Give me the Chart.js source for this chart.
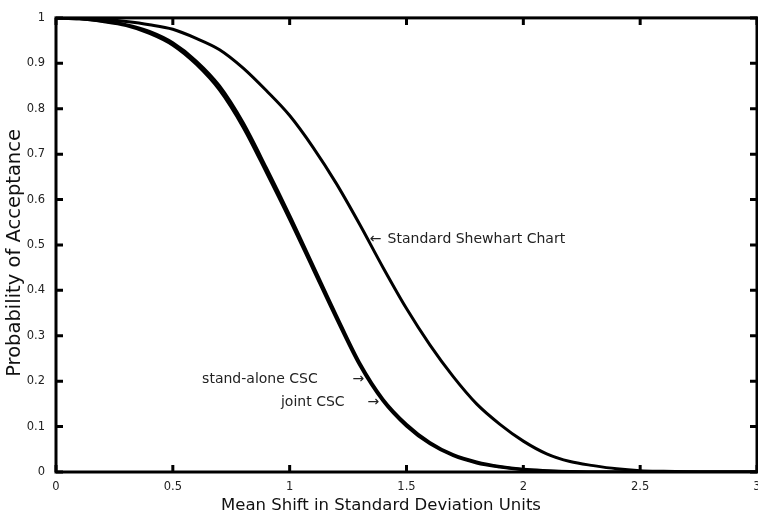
<!DOCTYPE html>
<html>
<head>
<meta charset="utf-8">
<script src="https://cdn.jsdelivr.net/npm/chart.js@4"></script>
<style>
  html, body { margin: 0; padding: 0; background: #fff; }
  #wrap { width: 758px; height: 515px; }
</style>
</head>
<body>
<div id="wrap"><canvas id="occChart"></canvas></div>
<script>
// mean shift (in std dev units)
const shifts = [0, 0.1, 0.2, 0.3, 0.4, 0.5, 0.6, 0.7, 0.8, 0.9, 1.0,
                1.1, 1.2, 1.3, 1.4, 1.5, 1.6, 1.7, 1.8, 1.9, 2.0,
                2.1, 2.2, 2.3, 2.4, 2.5, 2.6, 2.7, 2.8, 2.9, 3.0];

// probability of acceptance
const shewhart = [1.0, 0.999, 0.997, 0.992, 0.985, 0.975, 0.955, 0.93, 0.89, 0.84, 0.785,
                  0.715, 0.635, 0.545, 0.45, 0.36, 0.28, 0.21, 0.15, 0.105, 0.068,
                  0.04, 0.023, 0.014, 0.007, 0.003, 0.0015, 0.0005, 0, 0, 0];
const standAlone = [1.0, 0.998, 0.993, 0.985, 0.97, 0.945, 0.905, 0.85, 0.77, 0.67, 0.565,
                    0.455, 0.345, 0.24, 0.16, 0.105, 0.065, 0.038, 0.022, 0.012, 0.006,
                    0.003, 0.001, 0, 0, 0, 0, 0, 0, 0, 0];
const joint = [1.0, 0.998, 0.992, 0.983, 0.966, 0.94, 0.898, 0.841, 0.76, 0.66, 0.556,
               0.447, 0.338, 0.235, 0.156, 0.101, 0.062, 0.036, 0.02, 0.011, 0.005,
               0.002, 0.001, 0, 0, 0, 0, 0, 0, 0, 0];

const xTickStep = 0.5;
const yTickStep = 0.1;

const xTitle = 'Mean Shift in Standard Deviation Units';
const yTitle = 'Probability of Acceptance';

// text notes placed in data units
const notes = [
  { text: '\u2190', x: 1.343, y: 0.512, align: 'left' },
  { text: 'Standard Shewhart Chart', x: 1.419, y: 0.512, align: 'left' },
  { text: 'stand-alone CSC', x: 1.12, y: 0.203, align: 'right' },
  { text: '\u2192', x: 1.269, y: 0.203, align: 'left' },
  { text: 'joint CSC', x: 1.235, y: 0.153, align: 'right' },
  { text: '\u2192', x: 1.333, y: 0.153, align: 'left' }
];

const FONT = '"DejaVu Sans", "Liberation Sans", Arial, sans-serif';

const toPoints = ys => shifts.map((x, i) => ({ x: x, y: ys[i] }));
const fmt = v => String(Math.round(v * 10) / 10);

// frame + inward ticks on all four sides, axis titles and the text notes
const framePlugin = {
  id: 'frame',
  afterDraw(chart) {
    const { ctx, chartArea: a, scales } = chart;
    ctx.save();
    ctx.strokeStyle = '#000';
    ctx.lineWidth = 3;
    ctx.strokeRect(a.left, a.top, a.right - a.left, a.bottom - a.top);
    const len = 7;
    scales.x.ticks.forEach(t => {
      const px = scales.x.getPixelForValue(t.value);
      ctx.beginPath();
      ctx.moveTo(px, a.bottom); ctx.lineTo(px, a.bottom - len);
      ctx.moveTo(px, a.top); ctx.lineTo(px, a.top + len);
      ctx.stroke();
    });
    scales.y.ticks.forEach(t => {
      const py = scales.y.getPixelForValue(t.value);
      ctx.beginPath();
      ctx.moveTo(a.left, py); ctx.lineTo(a.left + len, py);
      ctx.moveTo(a.right, py); ctx.lineTo(a.right - len, py);
      ctx.stroke();
    });

    ctx.fillStyle = '#111';
    ctx.textAlign = 'center';
    ctx.textBaseline = 'middle';
    ctx.font = '16.5px ' + FONT;
    ctx.fillText(xTitle, chart.width / 2 + 2, 506);
    ctx.save();
    ctx.translate(15, (a.top + a.bottom) / 2 + 8);
    ctx.rotate(-Math.PI / 2);
    ctx.font = '19.5px ' + FONT;
    ctx.fillText(yTitle, 0, 0);
    ctx.restore();

    ctx.fillStyle = '#222';
    ctx.font = '14px ' + FONT;
    notes.forEach(n => {
      ctx.textAlign = n.align;
      ctx.fillText(n.text, scales.x.getPixelForValue(n.x), scales.y.getPixelForValue(n.y));
    });
    ctx.restore();
  }
};

const lineStyle = {
  borderColor: '#000',
  borderWidth: 3,
  pointRadius: 0,
  fill: false,
  cubicInterpolationMode: 'monotone'
};

new Chart(document.getElementById('occChart').getContext('2d'), {
  type: 'line',
  data: {
    datasets: [
      Object.assign({ label: 'Standard Shewhart Chart', data: toPoints(shewhart) }, lineStyle),
      Object.assign({ label: 'stand-alone CSC', data: toPoints(standAlone) }, lineStyle),
      Object.assign({ label: 'joint CSC', data: toPoints(joint) }, lineStyle)
    ]
  },
  options: {
    responsive: true,
    maintainAspectRatio: false,
    animation: false,
    layout: { padding: { top: 11, right: 1, left: 0, bottom: 0 } },
    plugins: {
      legend: { display: false },
      tooltip: { enabled: false }
    },
    scales: {
      x: {
        type: 'linear',
        min: 0,
        max: 3,
        grid: { display: false, drawTicks: false },
        border: { display: false },
        ticks: {
          stepSize: xTickStep,
          padding: 8,
          color: '#222',
          callback: fmt,
          font: { family: FONT, size: 11.5 }
        },
        afterFit: s => { s.height = 43; s.paddingLeft = 0; s.paddingRight = 0; }
      },
      y: {
        min: 0,
        max: 1,
        grid: { display: false, drawTicks: false },
        border: { display: false },
        ticks: {
          stepSize: yTickStep,
          padding: 11,
          color: '#222',
          callback: fmt,
          font: { family: FONT, size: 11.5 }
        },
        afterFit: s => { s.width = 56; }
      }
    }
  },
  plugins: [framePlugin]
});
</script>
</body>
</html>
